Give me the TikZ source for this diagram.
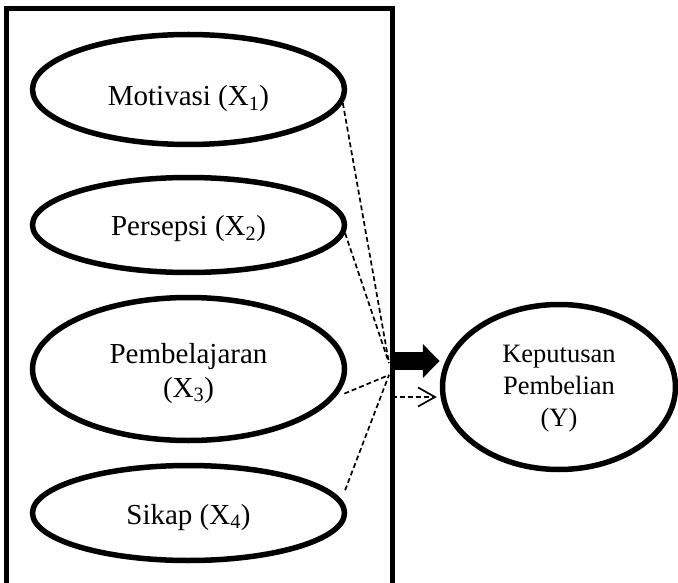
\documentclass[tikz,border=0pt]{standalone}
\usepackage{fontspec}
\setmainfont{Liberation Serif}
\usetikzlibrary{shapes.geometric,arrows.meta,calc}
\begin{document}
\begin{tikzpicture}[x=1pt,y=-1pt,
  var/.style={draw,ellipse,line width=5.5pt,inner sep=0pt},
  lbl/.style={font=\fontsize{29}{34}\selectfont,align=center,inner sep=0pt},
  lblY/.style={font=\fontsize{26.5}{32}\selectfont,align=center,inner sep=0pt},
  dashline/.style={line width=1.7pt,dash pattern=on 5pt off 3pt}]
\useasboundingbox (0,0) rectangle (678,583);
\node[draw,line width=5pt,minimum width=386pt,minimum height=576.5pt,inner sep=0pt] (box) at (199,296.75) {};
\node[var,minimum width=312pt,minimum height=110pt] (e1) at (188.5,89.5) {};
\node[var,minimum width=312pt,minimum height=95pt] (e2) at (188.5,225) {};
\node[var,minimum width=312pt,minimum height=143pt] (e3) at (188.5,369) {};
\node[var,minimum width=312pt,minimum height=95pt] (e4) at (188.5,513) {};
\node[var,minimum width=233pt,minimum height=165pt] (Y) at (559,387) {};
\node[lbl,anchor=base] (t1) at ($(e1.center)+(0,16.5)$) {Motivasi (X\textsubscript{1})};
\node[lbl,anchor=base] (t2) at ($(e2.center)+(0,11)$) {Persepsi (X\textsubscript{2})};
\node[lbl,anchor=base] (t3) at ($(e3.center)+(0,28)$) {Pembelajaran\\(X\textsubscript{3})};
\node[lbl,anchor=base] (t4) at ($(e4.center)+(0,11)$) {Sikap (X\textsubscript{4})};
\node[lblY,anchor=base] (tY) at ($(Y.center)+(0,39)$) {Keputusan\\Pembelian\\(Y)};
\coordinate (c1) at (389,363);
\coordinate (c2) at (389,375);
\draw[dashline] (e1.-5) -- (c1);
\draw[dashline] (e2.-3) -- (c1);
\draw[dashline,shorten <=10pt] (e3.-11) -- (c2);
\draw[dashline,shorten <=10pt] (e4.5) -- (c2);
\coordinate (a1) at (392,361);
\draw[line width=18pt,-{Triangle[width=33pt,length=17pt]}] (a1) -- (a1 -| Y.west);
\coordinate (a2) at (392,397);
\draw[dashline,-{Straight Barb[length=17pt,width=19pt]}] (a2) -- ($(a2 -| Y.west)+(-3,0)$);
\end{tikzpicture}
\end{document}
